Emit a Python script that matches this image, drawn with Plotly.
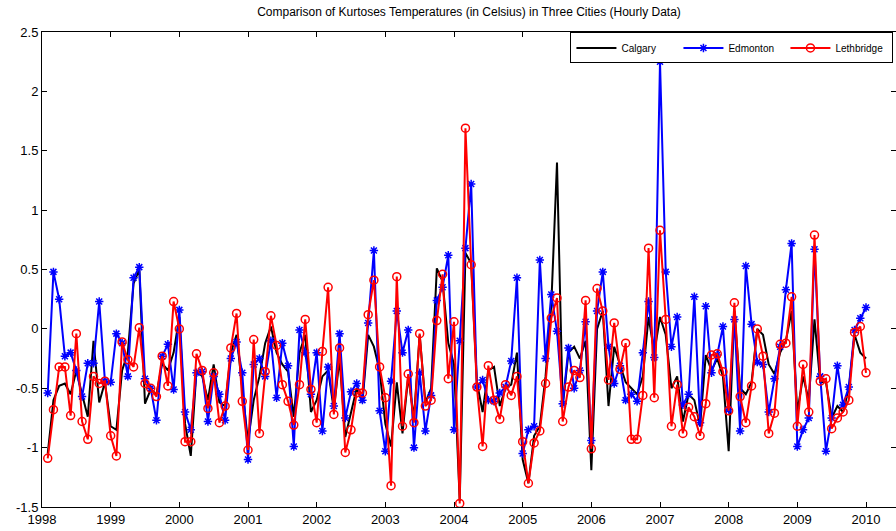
import plotly.graph_objects as go

# monthly sample positions (decimal years), Feb 1998 ... Jan 2010
years = [1998 + m / 12 for m in range(1, 145)]

calgary = [
    -1.05, -0.60, -0.48, -0.46, -0.55, -0.35, -0.55, -0.74, -0.10, -0.62, -0.45, -0.82,
    -0.85, -0.35, -0.20, 0.38, 0.50, -0.63, -0.51, -0.55, -0.29, -0.35, -0.20, 0.10,
    -0.80, -1.07, -0.35, -0.40, -0.60, -0.30, -0.62, -0.65, -0.20, -0.05, -0.50, -0.95,
    -0.60, -0.40, -0.12, 0.02, -0.20, -0.30, -0.36, -0.74, -0.20, -0.05, -0.70, -0.60,
    -0.40, -0.35, -0.68, -0.25, -0.91, -0.70, -0.50, -0.62, -0.05, -0.15, -0.35, -0.80,
    -0.99, -0.45, -0.88, -0.40, -0.75, -0.05, -0.62, -0.50, 0.51, 0.40, -0.12, -0.30,
    -1.45, 0.64, 0.55, -0.45, -0.70, -0.35, -0.32, -0.65, -0.50, -0.47, -0.20, -1.10,
    -1.30, -0.90, -0.82, -0.40, 0.20, 1.40, -0.65, -0.20, -0.15, -0.25, -0.10, -1.19,
    0.00, 0.15, -0.65, -0.15, -0.30, -0.45, -0.50, -0.55, -0.40, 0.10, -0.20, 0.10,
    -0.05, -0.50, -0.40, -0.78, -0.55, -0.60, -0.82, -0.22, -0.35, -0.25, -0.40, -1.03,
    0.15, -0.50, -0.55, -0.45, 0.00, -0.05, -0.30, -0.38, -0.20, -0.10, 0.15, -0.70,
    -0.40, -0.60, 0.08, -0.45, -0.45, -0.75, -0.65, -0.70, -0.50, -0.05, -0.20, -0.25,
]

edmonton = [
    -0.54, 0.48, 0.25, -0.23, -0.20, -0.35, -0.57, -0.29, -0.29, 0.23, -0.44, -0.45,
    -0.04, -0.12, -0.40, 0.43, 0.52, -0.42, -0.50, -0.77, -0.23, -0.13, -0.51, 0.16,
    -0.70, -0.85, -0.37, -0.36, -0.78, -0.40, -0.55, -0.77, -0.25, -0.11, -0.37, -1.10,
    -0.30, -0.25, -0.40, -0.10, -0.58, -0.12, -0.31, -0.99, -0.01, -0.20, -0.55, -0.20,
    -0.86, -0.32, -0.65, -0.04, -0.75, -0.53, -0.46, -0.60, 0.05, 0.66, -0.69, -1.03,
    -0.44, 0.15, -0.20, -0.01, -1.00, -0.37, -0.86, -0.56, 0.24, 0.35, 0.62, -0.85,
    -0.10, 0.68, 1.22, -0.49, -0.43, -0.60, -0.61, -0.54, -0.49, -0.27, 0.43, -1.05,
    -0.85, -0.82, 0.58, -0.25, 0.29, -0.02, -0.63, -0.16, -0.50, -0.35, 0.06, -0.94,
    0.15, 0.48, -0.15, -0.46, -0.31, -0.60, -0.55, -0.61, -0.20, 0.23, -0.24, 2.25,
    0.48, -0.15, 0.10, -0.64, -0.55, 0.27, -0.79, 0.19, -0.37, -0.22, 0.02, -0.68,
    0.08, -0.86, 0.53, 0.04, -0.28, -0.30, -0.70, -0.42, -0.15, 0.33, 0.72, -0.99,
    -0.85, -0.75, 0.67, -0.40, -1.03, -0.75, -0.31, -0.64, -0.49, -0.01, 0.09, 0.18,
]

lethbridge = [
    -1.09, -0.68, -0.32, -0.32, -0.73, -0.04, -0.78, -0.93, -0.40, -0.46, -0.44, -0.90,
    -1.07, -0.11, -0.26, -0.32, 0.01, -0.46, -0.50, -0.57, -0.23, -0.48, 0.23, 0.00,
    -0.95, -0.95, -0.21, -0.35, -0.67, -0.37, -0.79, -0.65, -0.16, 0.13, -0.61, -1.02,
    -0.09, -0.88, -0.36, 0.11, -0.14, -0.47, -0.61, -0.81, -0.47, 0.08, -0.51, -0.79,
    -0.19, 0.35, -0.72, -0.16, -1.04, -0.85, -0.54, -0.54, 0.12, 0.41, -0.32, -0.58,
    -1.32, 0.44, -0.82, -0.38, -0.79, -0.04, -0.65, -0.60, 0.07, 0.46, -0.42, 0.06,
    -1.47, 1.69, 0.54, -0.49, -0.99, -0.31, -0.60, -0.76, -0.47, -0.56, -0.40, -0.95,
    -1.30, -0.96, -0.86, -0.46, 0.09, 0.26, -0.78, -0.49, -0.35, -0.41, 0.24, -1.01,
    0.34, 0.15, -0.43, 0.05, -0.34, -0.12, -0.93, -0.93, -0.56, 0.68, -0.58, 0.83,
    0.08, -0.82, -0.47, -0.88, -0.66, -0.74, -0.90, -0.63, -0.22, -0.21, -0.36, -0.69,
    0.22, -0.57, -0.79, -0.48, 0.00, -0.23, -0.88, -0.71, -0.13, -0.12, 0.27, -0.82,
    -0.30, -0.70, 0.79, -0.44, -0.42, -0.84, -0.75, -0.70, -0.60, -0.03, 0.02, -0.37,
]

x_ticks = [1998, 1999, 2000, 2001, 2002, 2003, 2004, 2005, 2006, 2007, 2008, 2009, 2010]
y_ticks = [-1.5, -1, -0.5, 0, 0.5, 1, 1.5, 2, 2.5]

fig = go.Figure()
fig.add_trace(go.Scatter(
    x=years, y=calgary, name="Calgary", mode="lines",
    line=dict(color="black", width=2),
))
fig.add_trace(go.Scatter(
    x=years, y=edmonton, name="Edmonton", mode="lines+markers",
    line=dict(color="#0000ff", width=2),
    marker=dict(symbol="asterisk-open", size=7, color="#0000ff",
                line=dict(color="#0000ff", width=1.5)),
))
fig.add_trace(go.Scatter(
    x=years, y=lethbridge, name="Lethbridge", mode="lines+markers",
    line=dict(color="#ff0000", width=2),
    marker=dict(symbol="circle-open", size=8, color="#ff0000",
                line=dict(color="#ff0000", width=1.5)),
))

font_family = "Liberation Sans, Arial, Helvetica, sans-serif"
fig.update_layout(
    width=896, height=531,
    margin=dict(l=42, r=0, t=32, b=24),
    paper_bgcolor="white", plot_bgcolor="white",
    font=dict(family=font_family, size=13, color="black"),
    title=dict(text="Comparison of Kurtoses Temperatures (in Celsius) in Three Cities (Hourly Data)",
               x=0.5, xanchor="center", xref="paper", y=0.985, yanchor="top",
               font=dict(size=12, family=font_family)),
    showlegend=True,
    legend=dict(orientation="h", x=0.997, xanchor="right", y=0.999, yanchor="top",
                bgcolor="white", bordercolor="black", borderwidth=1,
                font=dict(size=10, family=font_family),
                entrywidth=52, tracegroupgap=0, itemwidth=40),
)
fig.update_xaxes(
    range=[1998, 2010 + 30 / 68.67], tickvals=x_ticks, ticktext=[str(t) for t in x_ticks],
    ticks="inside", ticklen=5, tickcolor="black", showline=True, linecolor="black",
    linewidth=1, mirror="ticks", showgrid=False, zeroline=False,
    tickfont=dict(size=13),
)
fig.update_yaxes(
    range=[-1.5, 2.5], tickvals=y_ticks, ticktext=["-1.5", "-1", "-0.5", "0", "0.5", "1", "1.5", "2", "2.5"],
    ticks="inside", ticklen=5, tickcolor="black", showline=True, linecolor="black",
    linewidth=1, mirror="ticks", showgrid=False, zeroline=False,
    tickfont=dict(size=13),
)

fig.write_html("out.html")
